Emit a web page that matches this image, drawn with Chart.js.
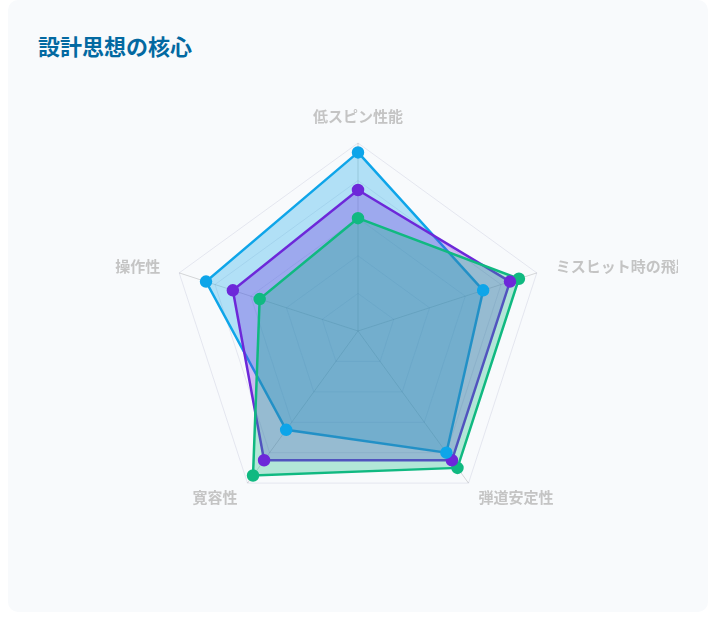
<!DOCTYPE html>
<html lang="ja">
<head>
<meta charset="UTF-8">
<title>設計思想の核心</title>
<script src="https://cdn.jsdelivr.net/npm/chart.js@4.4.1/dist/chart.umd.min.js"></script>
<style>
    html, body {
        margin: 0;
        padding: 0;
        background: #ffffff;
        font-family: "Noto Sans CJK JP", "Noto Sans", sans-serif;
    }
    .card {
        position: absolute;
        left: 8px;
        top: 0;
        width: 700px;
        height: 612px;
        box-sizing: border-box;
        padding: 30px 30px 0 30px;
        background: #f8fafc;
        border-radius: 10px;
    }
    .card h2 {
        margin: 0;
        font-size: 22px;
        line-height: 31px;
        font-weight: bold;
        color: #0369a1;
    }
    .chart-box {
        position: relative;
        margin-top: 28px;
        width: 640px;
        height: 448px;
        overflow: hidden;
    }
    /* キャンバスは枠より広く、右のラベルは枠で切れる */
    .chart-inner {
        position: absolute;
        left: -70px;
        top: 0;
        width: 780px;
        height: 448px;
    }
</style>
</head>
<body>
<div class="card">
    <h2>設計思想の核心</h2>
    <div class="chart-box">
        <div class="chart-inner">
            <canvas id="coreChart"></canvas>
        </div>
    </div>
</div>
<script>
// 評価軸
const axisLabels = ['低スピン性能', 'ミスヒット時の飛距離', '弾道安定性', '寛容性', '操作性'];

// 各モデルのスコア (0-100)
const modelNames = ['ツアーモデル', 'バランスモデル', 'やさしさモデル'];
const tourScores = [95, 70, 80, 65, 85];
const balanceScores = [75, 85, 85, 85, 70];
const easyScores = [60, 90, 90, 95, 55];

const seriesColors = ['14, 165, 233', '109, 40, 217', '16, 185, 129'];
const seriesData = [tourScores, balanceScores, easyScores];

// 塗りと線 (青が一番下、緑が一番上)
const areaSets = seriesData.map((values, i) => ({
    label: modelNames[i],
    data: values,
    backgroundColor: 'rgba(' + seriesColors[i] + ', 0.3)',
    borderColor: 'rgb(' + seriesColors[i] + ')',
    borderWidth: 2.5,
    pointRadius: 0,
    pointHoverRadius: 0,
    fill: true,
    order: 3 - i
}));

// 点だけは全部の塗りの上に描く
const pointSets = seriesData.map((values, i) => ({
    label: modelNames[i],
    data: values,
    showLine: false,
    fill: false,
    borderColor: 'rgb(' + seriesColors[i] + ')',
    borderWidth: 2.5,
    pointRadius: 5,
    pointBorderWidth: 2.5,
    pointHoverRadius: 6,
    pointBackgroundColor: 'rgb(' + seriesColors[i] + ')',
    pointBorderColor: 'rgb(' + seriesColors[i] + ')',
    order: 0
}));

const ctx = document.getElementById('coreChart').getContext('2d');
new Chart(ctx, {
    type: 'radar',
    data: {
        labels: axisLabels,
        datasets: areaSets.concat(pointSets)
    },
    options: {
        responsive: true,
        maintainAspectRatio: false,
        animation: false,
        plugins: {
            legend: { display: false },
            tooltip: { enabled: true }
        },
        scales: {
            r: {
                min: 0,
                max: 100,
                ticks: {
                    stepSize: 20,
                    display: false
                },
                grid: {
                    color: 'rgba(90, 90, 150, 0.12)'
                },
                angleLines: {
                    color: 'rgba(0, 0, 0, 0.15)'
                },
                pointLabels: {
                    color: '#c4c4c4',
                    // 上のラベル以外は軸の先端に縦中央で揃える
                    padding: function (c) {
                        if (c.index === 0) return 18;
                        if (c.index === 2 || c.index === 3) return 17;
                        return 20;
                    },
                    font: function (c) {
                        return {
                            family: '"Noto Sans CJK JP", sans-serif',
                            size: 15,
                            weight: 'bold',
                            lineHeight: c.index === 0 ? 1.2 : 0.1
                        };
                    }
                }
            }
        }
    }
});
</script>
</body>
</html>
